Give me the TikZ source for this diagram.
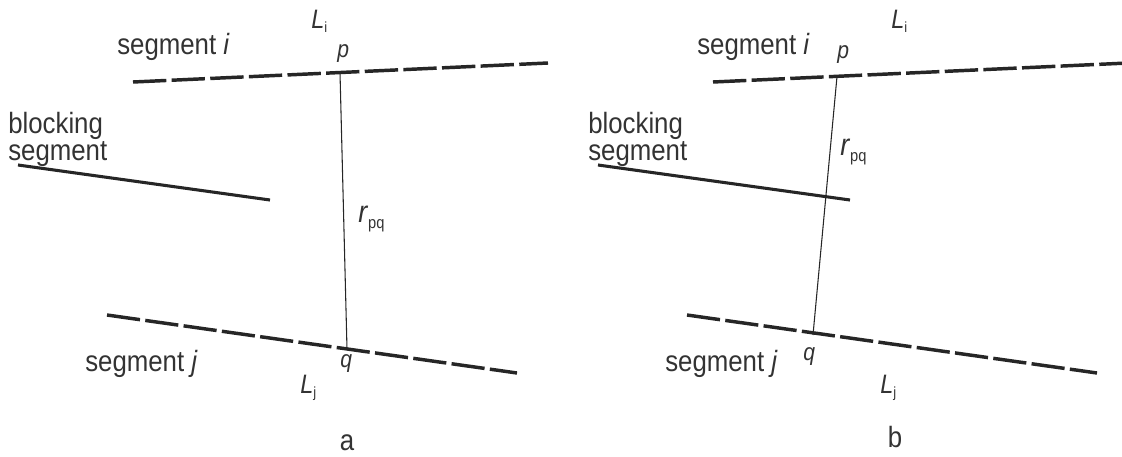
\documentclass[tikz,border=0pt]{standalone}
\usepackage{fontspec}
\setmainfont{Liberation Sans}[FakeStretch=0.88]
\usetikzlibrary{positioning}
\tikzset{
  every picture/.style={font=\fontsize{22}{20.25}\selectfont,text=black!80},
  seg/.style={draw=black!85,line width=2.6pt,dash pattern=on 25pt off 4pt},
  blockseg/.style={draw=black!85,line width=2.3pt},
  pqline/.style={draw=black!85,line width=0.8pt},
  lbl/.style={anchor=base west,inner sep=0pt},
}
\newcommand{\lsub}[3]{\raisebox{#1}{\fontsize{#2}{#2}\selectfont #3}}
\newcommand{\Lab}[1]{{\fontsize{20}{20}\selectfont\textit{L}}\lsub{-3pt}{11}{#1}}
\newcommand{\ptlab}[1]{{\fontsize{18}{18}\selectfont\textit{#1}}}
\newcommand{\rpq}{{\fontsize{23}{23}\selectfont\textit{r}}\lsub{-5pt}{12.5}{pq}}

\begin{document}
\begin{tikzpicture}[x=0.75pt,y=-0.75pt]
  \useasboundingbox (0,0) rectangle (1122,457);
  % both panels share segments i, j and the blocking segment
  \foreach \dx/\pn in {0/a,580/b}{
    \coordinate (si1-\pn) at (\dx+133,82);
    \coordinate (si2-\pn) at (\dx+548,63);
    \coordinate (sj1-\pn) at (\dx+107,315);
    \coordinate (sj2-\pn) at (\dx+517,373);
    \coordinate (bl1-\pn) at (\dx+18,165);
    \coordinate (bl2-\pn) at (\dx+270,200);
    \draw[seg] (si1-\pn) -- (si2-\pn);
    \draw[seg] (sj1-\pn) -- (sj2-\pn);
    \draw[blockseg] (bl1-\pn) -- (bl2-\pn);
    \node[lbl] (segi-\pn) at (\dx+117,54) {segment \textit{i}};
    \node[lbl] (segj-\pn) at (\dx+85,371) {segment \textit{j}};
    \node[lbl,align=left] (block-\pn) at (\dx+8,160) {blocking\\segment};
    \node[lbl] (Li-\pn) at (\dx+311,28) {\Lab{i}};
    \node[lbl] (Lj-\pn) at (\dx+300,393) {\Lab{j}};
  }
  % a: p and q see each other
  \coordinate (p-a) at (340,72.5);
  \coordinate (q-a) at (347,349);
  \draw[pqline] (p-a) -- (q-a);
  \node[lbl] (plab-a) at (337,57) {\ptlab{p}};
  \node[lbl] (qlab-a) at (340,367) {\ptlab{q}};
  \node[lbl] (r-a) at (358,222) {\rpq};
  \node[anchor=base,inner sep=0pt] (tag-a) at (347,450) {a};
  % b: r_pq crosses the blocking segment
  \coordinate (p-b) at (837,76.5);
  \coordinate (q-b) at (813,335);
  \draw[pqline] (p-b) -- (q-b);
  \node[lbl] (plab-b) at (837,58) {\ptlab{p}};
  \node[lbl] (qlab-b) at (803,360) {\ptlab{q}};
  \node[lbl] (r-b) at (840,155) {\rpq};
  \node[anchor=base,inner sep=0pt] (tag-b) at (895,447) {b};
\end{tikzpicture}
\end{document}
